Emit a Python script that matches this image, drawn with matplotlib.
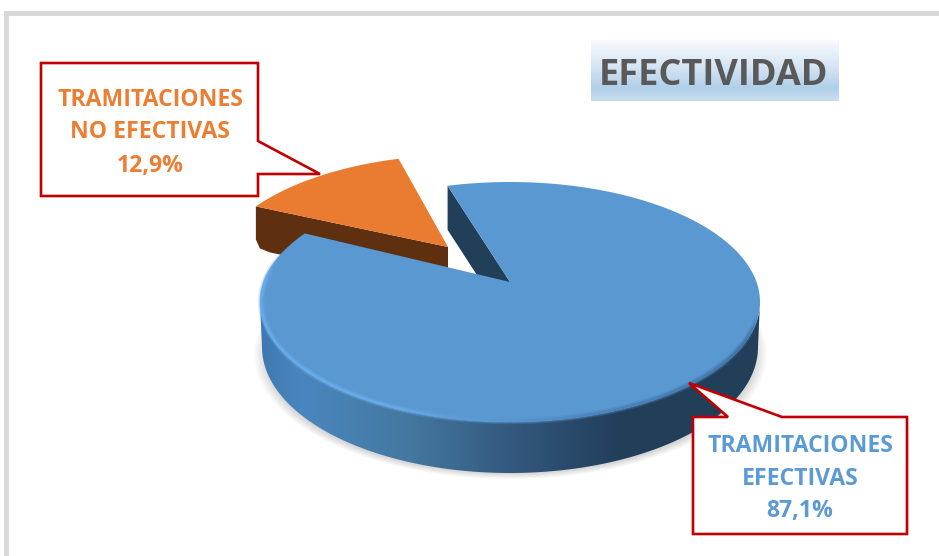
import numpy as np
import matplotlib
matplotlib.use('Agg')
import matplotlib.pyplot as plt
from matplotlib.collections import LineCollection
from matplotlib.colors import LinearSegmentedColormap
from matplotlib.patches import Polygon, Rectangle

categories = ['TRAMITACIONES\nEFECTIVAS', 'TRAMITACIONES\nNO EFECTIVAS']
values = [87.1, 12.9]
value_labels = ['87,1%', '12,9%']
title = 'EFECTIVIDAD'

WIDTH, HEIGHT = 939, 556
CX, CY, RX, RY = 510, 302, 250, 120
APEX = (510, 282)
START = -17.3
ORANGE_SHIFT = (-49, -27)
ORANGE_APEX = (448, 247)
RED = '#C00000'


def rim_point(angle):
    # the slices are cut from an apex that sits above the middle of the ellipse
    t = np.radians(angle)
    dx, dy = np.sin(t) * RX, -np.cos(t) * RY
    px, py = (APEX[0] - CX) / RX, (APEX[1] - CY) / RY
    ux, uy = dx / RX, dy / RY
    b = px * ux + py * uy
    a = ux * ux + uy * uy
    s = (-b + np.sqrt(b * b - a * (px * px + py * py - 1))) / a
    return APEX[0] + s * dx, APEX[1] + s * dy


def arc(first, last, n=200):
    return np.array([rim_point(a) for a in np.linspace(first, last, n)])


def gradient(ax, patch, stops, horizontal=True, extent=None):
    cmap = LinearSegmentedColormap.from_list('g', stops)
    grad = np.linspace(0, 1, 512)
    grad = grad.reshape(1, -1) if horizontal else grad.reshape(-1, 1)
    im = ax.imshow(grad, cmap=cmap, extent=extent, aspect='auto', vmin=0, vmax=1,
                   zorder=patch.get_zorder(), interpolation='bilinear')
    im.set_clip_path(patch)


def callout(ax, points):
    ax.add_patch(Polygon(points, closed=True, facecolor='white', edgecolor=RED,
                         linewidth=1.9, joinstyle='miter', zorder=10))


def label(ax, x, baselines, lines, color):
    for y, line in zip(baselines, lines):
        ax.text(x, y, line, ha='center', va='baseline', color=color, fontsize=16.6,
                fontweight='bold', family='Open Sans', zorder=11)


fig = plt.figure(figsize=(WIDTH / 100, HEIGHT / 100), dpi=100)
ax = fig.add_axes([0, 0, 1, 1])

# marco gris
ax.add_patch(Rectangle((6, 13), WIDTH, HEIGHT, facecolor='white', edgecolor='#D9D9D9',
                       linewidth=3.6, zorder=0))

# titulo
title_box = Rectangle((591, 40), 248, 61, facecolor='none', edgecolor='none', zorder=2)
ax.add_patch(title_box)
gradient(ax, title_box, [(0, '#F8FAFD'), (0.45, '#D5E4F3'), (0.78, '#B0CFE9'), (1, '#CADDF0')],
         horizontal=False, extent=(591, 839, 101, 40))
ax.text(714, 85, title, ha='center', va='baseline', color='#595959', fontsize=26,
        fontweight='bold', family='Open Sans', zorder=3)

# sombra, solo por debajo del disco
yy, xx = np.mgrid[0:HEIGHT, 0:WIDTH]
dist = np.sqrt(((xx - 510) / 257) ** 2 + ((yy - 354) / 125) ** 2)
alpha = np.clip((1.0 - dist) / 0.05, 0, 1) * 0.3
alpha[yy < 300] = 0
shadow = np.zeros((HEIGHT, WIDTH, 4))
shadow[..., :3] = 0.45
shadow[..., 3] = alpha
ax.imshow(shadow, extent=(0, WIDTH, HEIGHT, 0), aspect='auto', zorder=1)

# angulos a partir de los valores
blue_sweep = 360 * values[0] / sum(values)
blue_end = START + blue_sweep
orange_first = blue_end - 360

# porcion naranja
orange_arc = arc(orange_first, START) + np.array(ORANGE_SHIFT)
left = orange_arc[0]
depth = 43
side = [left, ORANGE_APEX, (ORANGE_APEX[0], ORANGE_APEX[1] + depth),
        (left[0] + 14, left[1] + depth + 3), (left[0] + 4, left[1] + depth - 1),
        (left[0], left[1] + depth - 10)]
ax.add_patch(Polygon(side, closed=True, facecolor='#5F3010', edgecolor='none', zorder=3))
ax.add_patch(Polygon(np.vstack([orange_arc, ORANGE_APEX]), closed=True, facecolor='#E97C30',
                     edgecolor='none', zorder=4))

# pared interior azul
start_pt = np.array(rim_point(START))
wall = [start_pt, APEX, (APEX[0], APEX[1] + 44), start_pt + np.array([0, 44])]
ax.add_patch(Polygon(wall, closed=True, facecolor='#223F5A', edgecolor='none', zorder=5))

# lateral azul
t = np.radians(np.linspace(-90, 90, 300))
top_x, top_y = CX + RX * np.sin(t), CY + RY * np.cos(t)
bottom_x, bottom_y = CX + 248 * np.sin(t), 347 + 126 * np.cos(t)
side_pts = np.vstack([np.column_stack([top_x, top_y]),
                      np.column_stack([bottom_x, bottom_y])[::-1]])
blue_side = Polygon(side_pts, closed=True, facecolor='none', edgecolor='none', zorder=6)
ax.add_patch(blue_side)
gradient(ax, blue_side, [(0, '#3E78B0'), (0.08, '#4A86BF'), (0.3, '#44789F'), (0.5, '#34597F'),
                         (0.62, '#2A4A6B'), (0.72, '#223F5A'), (1, '#223F5A')],
         extent=(CX - RX, CX + RX, 480, 300))

# cara superior azul
blue_arc = arc(START, blue_end, 600)
ax.add_patch(Polygon(np.vstack([blue_arc, APEX]), closed=True, facecolor='#5A98D2',
                     edgecolor='none', zorder=7))

# bisel del borde: se desvanece en los dos extremos
bevel = arc(105, blue_end - 8, 400)
bevel = np.column_stack([CX + (bevel[:, 0] - CX) * 0.995, CY + (bevel[:, 1] - CY) * 0.992])
segs = np.stack([bevel[:-1], bevel[1:]], axis=1)
pos = np.linspace(0, 1, len(segs))
cmap = LinearSegmentedColormap.from_list('b', [(0, '#3F6E9A'), (0.3, '#4A82B8'), (0.55, '#6AADEA'),
                                               (0.9, '#6AADEA'), (1, '#5A98D2')])
fade = np.clip(pos / 0.08, 0, 1) * np.clip((1 - pos) / 0.08, 0, 1)
for width, strength in [(4.5, 0.3), (2.8, 0.5), (1.2, 0.9)]:
    colors = cmap(pos)
    colors[:, 3] = fade * strength
    ax.add_collection(LineCollection(segs, colors=colors, linewidths=width, zorder=8))

# llamadas
callout(ax, [(41, 63), (258, 63), (258, 141), (320, 174), (258, 174), (258, 196), (41, 196)])
callout(ax, [(693, 417), (728, 417), (689, 383), (782, 417), (907, 417), (907, 534), (693, 534)])
label(ax, 150, [106, 138, 172], categories[1].split('\n') + [value_labels[1]], '#ED7D31')
label(ax, 800, [452, 485, 517], categories[0].split('\n') + [value_labels[0]], '#5B9BD5')

ax.set_xlim(0, WIDTH)
ax.set_ylim(HEIGHT, 0)
ax.axis('off')
fig.savefig('out.png', dpi=100)
